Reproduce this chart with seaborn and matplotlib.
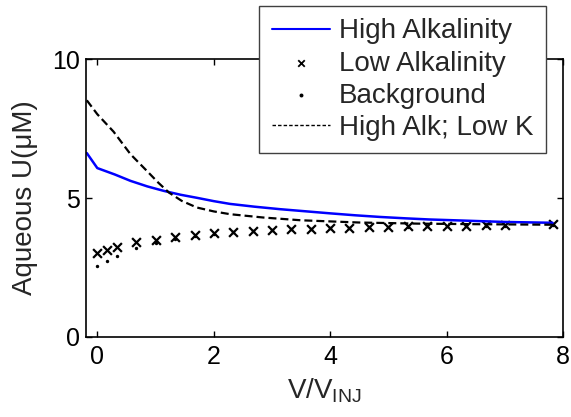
import numpy as np
import pandas as pd
import matplotlib
matplotlib.use("Agg")
import matplotlib.pyplot as plt
import seaborn as sns

# values
high_x = [-0.18, 0.0, 0.3, 0.57, 0.86, 1.14, 1.43, 1.71, 2.0, 2.28, 2.7, 3.14, 3.6, 4.0, 4.43, 4.86, 5.3, 5.7, 6.14, 6.57, 7.0, 7.82]
high_y = [6.62, 6.08, 5.85, 5.62, 5.42, 5.26, 5.12, 5.01, 4.89, 4.79, 4.69, 4.6, 4.52, 4.45, 4.38, 4.32, 4.27, 4.23, 4.2, 4.17, 4.14, 4.11]

lowk_x = [-0.18, 0.0, 0.28, 0.57, 0.86, 1.05, 1.23, 1.45, 1.71, 2.0, 2.28, 2.85, 3.5, 4.5, 5.5, 6.5, 7.82]
lowk_y = [8.52, 8.02, 7.39, 6.58, 5.96, 5.55, 5.2, 4.9, 4.66, 4.52, 4.42, 4.3, 4.2, 4.12, 4.08, 4.06, 4.04]

pts_x = [0.0, 0.17, 0.33, 0.67, 1.0, 1.33, 1.67, 2.0, 2.33, 2.67, 3.0, 3.33, 3.67, 4.0, 4.33,
         4.67, 5.0, 5.33, 5.67, 6.0, 6.33, 6.67, 7.0, 7.83]
low_y = [3.01, 3.13, 3.25, 3.43, 3.49, 3.59, 3.67, 3.73, 3.79, 3.82, 3.85, 3.88, 3.9, 3.92, 3.94,
         3.96, 3.97, 3.98, 3.99, 4.0, 4.01, 4.02, 4.02, 4.05]
bg_y = [2.55, 2.74, 2.91, 3.19, 3.37, 3.53, 3.63, 3.71, 3.77, 3.81, 3.84, 3.87, 3.89, 3.91, 3.93,
        3.95, 3.96, 3.97, 3.98, 3.99, 4.0, 4.01, 4.01, 4.04]

labels = ["High Alkalinity", "Low Alkalinity", "Background", "High Alk; Low K"]

sns.set_style("ticks")
plt.rcParams['font.family'] = ['Liberation Sans', 'DejaVu Sans']
plt.rcParams['mathtext.default'] = 'regular'
plt.rcParams['axes.linewidth'] = 1.2

fig = plt.figure(figsize=(5.71, 4.17), dpi=100)
ax = fig.add_axes([0.150, 0.192, 0.836, 0.666])

sns.lineplot(x=high_x, y=high_y, ax=ax, color='#0000ff', linewidth=1.8,
             estimator=None, sort=False, label=labels[0])
sns.scatterplot(x=pts_x, y=low_y, ax=ax, marker='x', color='black', s=40,
                linewidth=1.6, label=labels[1])
sns.scatterplot(x=pts_x, y=bg_y, ax=ax, marker='o', color='black', s=6,
                linewidth=0, label=labels[2])
sns.lineplot(x=lowk_x, y=lowk_y, ax=ax, color='black', linewidth=1.6,
             linestyle='--', estimator=None, sort=False, label=labels[3])
ax.lines[-1].set_dashes((3.6, 1.8))

ax.set_xlim(-0.2, 8)
ax.set_ylim(0, 10)
ax.set_xticks([0, 2, 4, 6, 8])
ax.set_yticks([0, 5, 10])
ax.tick_params(direction='in', length=4, width=1, labelsize=18,
               top=True, right=True, colors='black')
ax.tick_params(axis='x', pad=6)
ax.tick_params(axis='y', pad=4)
for s in ax.spines.values():
    s.set_color('black')

ax.set_xlabel("V/V$_{INJ}$", fontsize=20, labelpad=5)
ax.set_ylabel("Aqueous U(\u03bcM)", fontsize=20, labelpad=10)

handles, _ = ax.get_legend_handles_labels()
leg = ax.legend(handles, labels, loc='upper right',
                bbox_to_anchor=(546 / 571, 1 - 6 / 417), bbox_transform=fig.transFigure,
                borderaxespad=0, fontsize=20, frameon=True, fancybox=False,
                framealpha=1, edgecolor='#404040', handlelength=2.1,
                handletextpad=0.32, labelspacing=0.22, borderpad=0.45)
leg.get_frame().set_linewidth(1.0)
lh = leg.legend_handles
lh[0].set_linewidth(1.5)
lh[1].set_sizes([22])
lh[1].set_linewidths([1.3])
lh[2].set_sizes([8])
lh[3].set_linewidth(1.0)
lh[3].set_dashes((2.5, 1.5))

fig.savefig("out.png", dpi=100)
